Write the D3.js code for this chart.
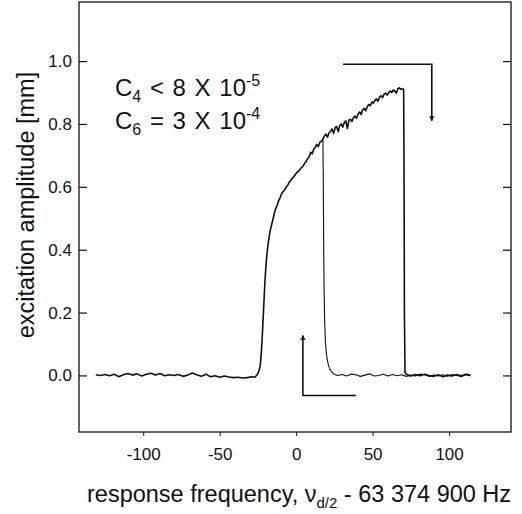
<!DOCTYPE html>
<html>
<head>
<meta charset="utf-8">
<script src="https://cdn.jsdelivr.net/npm/d3@7"></script>
<style>
  body { margin: 0; background: #fff; }
  svg { display: block; font-family: "Liberation Sans", Arial, sans-serif; }
</style>
</head>
<body>
<div id="chart"></div>
<script>
// values (frequency offset in Hz, amplitude in mm)
const upFreq = [-131,-128,-125,-122,-119,-116,-113,-110,-107,-104,-101,-98,-95,-92,-89,-86,-83,-80,-77,-74,
  -71,-68,-65,-62,-59,-56,-53,-50,-47,-44,-41,-38,-35,-32,-29,-27,-25.5,-24.5,-23.5,-22.8,
  -22.2,-21.6,-21,-20.5,-20,-19.4,-18.8,-18,-17,-16,-15,-13.8,-12.5,-11.5,-10.5,-9.5,-8.5,-7.5,-6.5,-5.5,
  -4.5,-3.5,-2.5,-1.5,-0.5,0.5,1.5,2.5,3.5,4.5,5.5,6.5,7.5,8.5,9.5,10.5,11.5,12.5,13.5,14.5,
  15.5,16.5,17.5,18.5,19.5,20.5,21.5,22.5,23.5,24.5,25.5,26.5,27.5,28.5,29.5,30.5,31.5,32.5,33.5,34.5,
  35.5,36.5,37.5,38.5,39.5,40.5,41.5,42.5,43.5,44.5,45.5,46.5,47.5,48.5,49.5,50.5,51.5,52.5,53.5,54.5,
  55.5,56.5,57.5,58.5,59.5,60.5,61.5,62.5,63.5,64.5,65.5,66.5,67.5,68.5,69.5,70.3,70.6,70.8,71.2,
  72,75,78,81,84,87,90,93,96,99,102,105,108,111,114];
const upAmp = [0.002,0.000,0.003,-0.001,0.004,-0.004,0.002,0.006,0.001,0.005,-0.002,0.004,0.007,0.001,0.006,-0.001,0.002,0.000,0.003,-0.003,
  0.001,0.008,0.002,-0.003,0.004,-0.004,-0.001,-0.006,-0.002,-0.005,-0.007,-0.006,-0.008,-0.007,-0.004,-0.006,0.002,0.012,0.03,0.07,
  0.12,0.18,0.24,0.29,0.33,0.37,0.40,0.43,0.46,0.48,0.50,0.525,0.54,0.555,0.565,0.578,0.585,0.59,0.60,0.605,
  0.615,0.62,0.628,0.632,0.64,0.645,0.65,0.655,0.662,0.665,0.675,0.68,0.69,0.695,0.71,0.705,0.72,0.725,0.735,0.728,
  0.742,0.745,0.752,0.762,0.768,0.758,0.772,0.776,0.784,0.77,0.788,0.792,0.775,0.795,0.80,0.79,0.805,0.81,0.785,0.812,
  0.815,0.808,0.82,0.825,0.818,0.832,0.838,0.83,0.845,0.85,0.842,0.855,0.862,0.858,0.87,0.866,0.875,0.88,0.872,0.885,
  0.89,0.884,0.895,0.898,0.892,0.90,0.905,0.90,0.908,0.905,0.898,0.912,0.915,0.91,0.912,0.91,0.6,0.2,0.01,
  0.004,-0.002,0.003,-0.001,0.004,0.000,-0.003,0.002,-0.004,0.001,-0.002,0.003,-0.001,0.004,0.001];

const downFreq = [114,111,108,105,102,99,96,93,90,87,84,81,78,75,72,69,66,63,60,57,
  54,51,48,45,42,39,36,33,30,27,25,23.5,22,21,20,19.2,18.6,18.2,17.9,17.7,17.5];
const downAmp = [-0.002,0.002,-0.004,0.000,0.003,-0.003,0.002,-0.002,0.001,-0.003,0.002,0.004,-0.002,0.001,-0.003,0.002,-0.001,0.003,-0.002,0.004,
  0.000,-0.002,0.005,0.001,-0.003,0.002,0.004,-0.002,0.003,0.000,0.004,0.01,0.02,0.035,0.06,0.1,0.18,0.3,0.5,0.65,0.75];

// sweep direction arrows
const arrowUpSweep = [[30.7, 0.99], [88.7, 0.99], [88.7, 0.81]];
const arrowDownSweep = [[39.2, -0.064], [4.4, -0.064], [4.4, 0.127]];

const xTicks = [-100, -50, 0, 50, 100];
const yTicks = [0.0, 0.2, 0.4, 0.6, 0.8, 1.0];

const width = 522, height = 514;
const margin = {top: 2, right: 11, bottom: 82, left: 79};

const svg = d3.select("#chart").append("svg")
  .attr("width", width).attr("height", height);

const x = d3.scaleLinear().domain([-142, 140.5]).range([margin.left, width - margin.right]);
const y = d3.scaleLinear().domain([-0.18, 1.188]).range([height - margin.bottom, margin.top]);

const defs = svg.append("defs");
defs.append("marker")
  .attr("id", "head")
  .attr("viewBox", "0 0 10 10")
  .attr("refX", 9).attr("refY", 5)
  .attr("markerWidth", 5).attr("markerHeight", 6)
  .attr("markerUnits", "userSpaceOnUse")
  .attr("orient", "auto")
  .append("path").attr("d", "M0,0L10,5L0,10z").attr("fill", "#111");

// frame
svg.append("rect")
  .attr("x", x.range()[0]).attr("y", y.range()[1])
  .attr("width", x.range()[1] - x.range()[0])
  .attr("height", y.range()[0] - y.range()[1])
  .attr("fill", "none").attr("stroke", "#111").attr("stroke-width", 1.3);

// left axis, ticks inward
const yLeft = svg.append("g")
  .attr("transform", "translate(" + x.range()[0] + ",0)")
  .call(d3.axisRight(y).tickValues(yTicks).tickSize(8).tickFormat(""));
yLeft.select(".domain").remove();
yLeft.selectAll("line").attr("stroke", "#111").attr("stroke-width", 1.2);

svg.append("g").selectAll("text")
  .data(yTicks).join("text")
  .attr("x", x.range()[0] - 7)
  .attr("y", d => y(d) + 6)
  .attr("text-anchor", "end")
  .attr("font-size", 17)
  .attr("fill", "#111")
  .text(d3.format(".1f"));

// right axis, ticks inward
const yRight = svg.append("g")
  .attr("transform", "translate(" + x.range()[1] + ",0)")
  .call(d3.axisLeft(y).tickValues(yTicks).tickSize(8).tickFormat(""));
yRight.select(".domain").remove();
yRight.selectAll("line").attr("stroke", "#111").attr("stroke-width", 1.2);

// bottom axis, short ticks
const xAxis = svg.append("g")
  .attr("transform", "translate(0," + y.range()[0] + ")")
  .call(d3.axisBottom(x).tickValues(xTicks).tickSize(4).tickPadding(12));
xAxis.select(".domain").remove();
xAxis.selectAll("line").attr("stroke", "#111").attr("stroke-width", 1);
xAxis.selectAll("text")
  .attr("font-size", 17)
  .attr("font-family", "\"Liberation Sans\", Arial, sans-serif")
  .attr("fill", "#111")
  .text(d => d < 0 ? "-" + Math.abs(d) : d);

// curves
const line = d3.line().x(d => x(d[0])).y(d => y(d[1]));
svg.append("path")
  .datum(d3.zip(upFreq, upAmp))
  .attr("d", line)
  .attr("fill", "none").attr("stroke", "#111").attr("stroke-width", 1.6)
  .attr("stroke-linejoin", "round");
svg.append("path")
  .datum(d3.zip(downFreq, downAmp))
  .attr("d", line)
  .attr("fill", "none").attr("stroke", "#111").attr("stroke-width", 1.1)
  .attr("stroke-linejoin", "round");

// arrows
[arrowUpSweep, arrowDownSweep].forEach(a => {
  svg.append("path")
    .attr("d", line(a))
    .attr("fill", "none").attr("stroke", "#111").attr("stroke-width", 1.6)
    .attr("marker-end", "url(#head)");
});

// coefficient annotations
function coef(yPos, sub, rest, exp) {
  const t = svg.append("text")
    .attr("x", 115).attr("y", yPos)
    .attr("font-size", 24).attr("word-spacing", 2).attr("fill", "#111");
  t.append("tspan").text("C");
  t.append("tspan").attr("font-size", 16).attr("dy", 6).text(sub);
  t.append("tspan").attr("dy", -6).text(" " + rest);
  t.append("tspan").attr("font-size", 16).attr("dy", -10).text(exp);
}
coef(96, "4", "< 8 X 10", "-5");
coef(129, "6", "= 3 X 10", "-4");

// axis titles
svg.append("text")
  .attr("transform", "translate(34,205) rotate(-90)")
  .attr("text-anchor", "middle")
  .attr("font-size", 23.5).attr("fill", "#111")
  .text("excitation amplitude [mm]");

const xt = svg.append("text")
  .attr("x", 87).attr("y", 502)
  .attr("font-size", 23.5).attr("fill", "#111");
xt.append("tspan").text("response frequency, \u03bd");
xt.append("tspan").attr("font-size", 15).attr("dy", 6).text("d/2");
xt.append("tspan").attr("dy", -6).text(" - 63 374 900 Hz");
</script>
</body>
</html>
